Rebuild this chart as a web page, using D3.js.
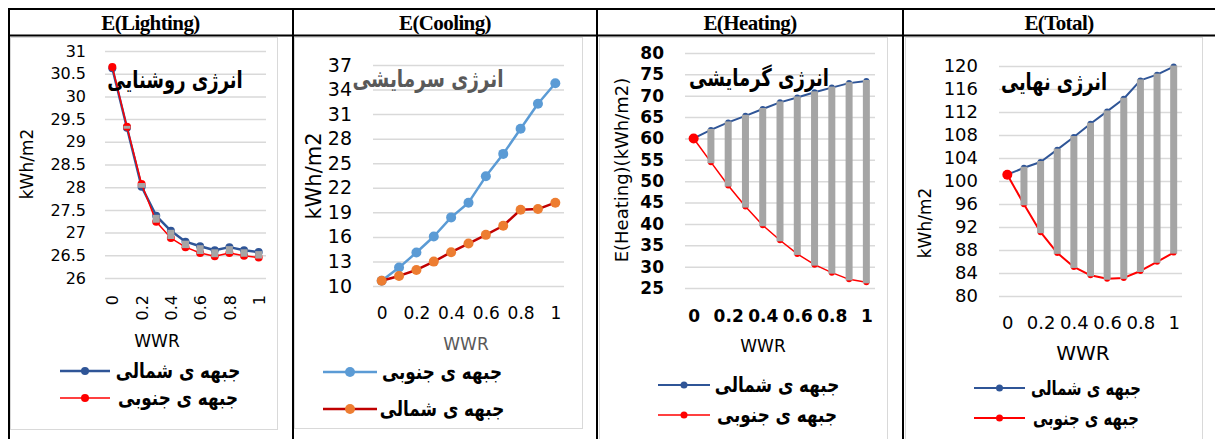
<!DOCTYPE html>
<html>
<head>
<meta charset="utf-8">
<script src="https://cdn.jsdelivr.net/npm/d3@7"></script>
<style>
  body { margin: 0; background: #fff; }
  text { font-family: "DejaVu Sans", sans-serif; }
</style>
</head>
<body>
<script>
// categories (window-to-wall ratio)
const wwr = [0, 0.1, 0.2, 0.3, 0.4, 0.5, 0.6, 0.7, 0.8, 0.9, 1];
const xTickLabels = ["0", "0.2", "0.4", "0.6", "0.8", "1"];

const headers = ["E(Lighting)", "E(Cooling)", "E(Heating)", "E(Total)"];
const titles = ["انرژی روشنایی", "انرژی سرمایشی", "انرژی گرمایشی", "انرژی نهایی"];
const northLabel = "جبهه ی شمالی";
const southLabel = "جبهه ی جنوبی";

// series values, kWh/m2
const lightNorth = [30.62, 29.31, 28.01, 27.37, 27.04, 26.80, 26.70, 26.61, 26.68, 26.61, 26.57];
const lightSouth = [30.65, 29.33, 28.07, 27.24, 26.88, 26.68, 26.55, 26.48, 26.55, 26.49, 26.45];
const coolSouth = [10.65, 12.25, 14.09, 16.05, 18.38, 20.18, 23.40, 26.14, 29.21, 32.27, 34.77];
const coolNorth = [10.65, 11.23, 11.96, 12.98, 14.13, 15.19, 16.25, 17.36, 19.32, 19.40, 20.18];
const heatNorth = [60.0, 62.0, 63.75, 65.3, 66.9, 68.45, 69.6, 70.8, 71.9, 72.95, 73.45];
const heatSouth = [60.0, 54.45, 48.98, 44.06, 39.69, 36.17, 32.97, 30.47, 28.59, 27.03, 26.33];
const totalNorth = [101.1, 102.3, 103.3, 105.45, 107.65, 109.95, 112.1, 114.3, 117.5, 118.5, 119.9];
const totalSouth = [101.1, 95.95, 91.1, 87.5, 85.05, 83.6, 83.0, 83.15, 84.35, 85.95, 87.55];

// y tick values
const lightTicks = [26, 26.5, 27, 27.5, 28, 28.5, 29, 29.5, 30, 30.5, 31];
const coolTicks = [10, 13, 16, 19, 22, 25, 28, 31, 34, 37];
const heatTicks = [25, 30, 35, 40, 45, 50, 55, 60, 65, 70, 75, 80];
const totalTicks = [80, 84, 88, 92, 96, 100, 104, 108, 112, 116, 120];

const W = 1215, H = 439;
const DARKBLUE = "#2f5597", RED = "#ff0000", GRAY_BAR = "#a5a5a5", GRID = "#d9d9d9";

const svg = d3.select("body").append("svg")
  .attr("width", W).attr("height", H);

const panels = [
  {
    col: [8, 293], area: [10, 37, 277, 429],
    plot: { left: 105, right: 266, top: 51, bottom: 278 },
    ticks: lightTicks, tickSize: 16, tickBold: false, tickRight: 86,
    xRotate: true, xLabelY: 295, xSize: 16, xBold: false,
    title: { x: 175, y: 88, color: "#000", size: 24, sx: 0.75 },
    yTitle: { text: "kWh/m2", x: 27, y: 164, size: 17 },
    wwr: { x: 157, y: 347, size: 17, color: "#000" },
    series: [
      { values: lightNorth, line: DARKBLUE, marker: DARKBLUE, lw: 2.5, r: 4, label: northLabel },
      { values: lightSouth, line: RED, marker: RED, lw: 1.5, r: 4, label: southLabel }
    ],
    bars: true,
    legend: { x0: 60, x1: 110, ys: [371, 398], textX: 178, size: 21, sx: 0.8 }
  },
  {
    col: [293, 597], area: [294, 37, 582, 428],
    plot: { left: 373, right: 564, top: 65, bottom: 286 },
    ticks: coolTicks, tickSize: 19, tickBold: false, tickRight: 352,
    xRotate: false, xLabelY: 319, xSize: 17, xBold: false,
    title: { x: 428, y: 87, color: "#595959", size: 24, sx: 0.77 },
    yTitle: { text: "kWh/m2", x: 314, y: 176, size: 21 },
    wwr: { x: 466, y: 350, size: 17, color: "#595959" },
    series: [
      { values: coolSouth, line: "#5b9bd5", marker: "#5b9bd5", lw: 2.5, r: 5, label: southLabel },
      { values: coolNorth, line: "#c00000", marker: "#ed7d31", lw: 2.5, r: 5, label: northLabel }
    ],
    bars: false,
    legend: { x0: 323, x1: 377, ys: [372, 409], textX: 442, size: 21, sx: 0.8 }
  },
  {
    col: [597, 903], area: [599, 37, 887, 460],
    plot: { left: 685, right: 875, top: 53, bottom: 288 },
    ticks: heatTicks, tickSize: 17, tickBold: true, tickRight: 664,
    xRotate: false, xLabelY: 322, xSize: 17, xBold: true,
    title: { x: 759, y: 86, color: "#000", size: 24, sx: 0.75 },
    yTitle: { text: "E(Heating)(kWh/m2)", x: 622, y: 170, size: 18 },
    wwr: { x: 763, y: 352, size: 17, color: "#000" },
    series: [
      { values: heatNorth, line: DARKBLUE, marker: DARKBLUE, lw: 2, r: 3, r0: 3, label: northLabel },
      { values: heatSouth, line: RED, marker: RED, lw: 1.5, r: 3, r0: 5, label: southLabel }
    ],
    bars: true,
    legend: { x0: 658, x1: 710, ys: [385, 415], textX: 777, size: 21, sx: 0.8 }
  },
  {
    col: [903, 1215], area: [905, 37, 1202, 460],
    plot: { left: 999, right: 1182, top: 66, bottom: 296 },
    ticks: totalTicks, tickSize: 18, tickBold: false, tickRight: 978,
    xRotate: false, xLabelY: 329, xSize: 18, xBold: false,
    title: { x: 1054, y: 90, color: "#000", size: 24, sx: 0.74 },
    yTitle: { text: "kWh/m2", x: 925, y: 223, size: 17 },
    wwr: { x: 1083, y: 360, size: 20, color: "#000" },
    series: [
      { values: totalNorth, line: DARKBLUE, marker: DARKBLUE, lw: 2, r: 3, r0: 3, label: northLabel },
      { values: totalSouth, line: RED, marker: RED, lw: 2, r: 3, r0: 5, label: southLabel }
    ],
    bars: true,
    legend: { x0: 974, x1: 1025, ys: [388, 418], textX: 1086, size: 20, sx: 0.74 }
  }
];

panels.forEach((p, i) => drawPanel(p, i));
drawTable();

function drawPanel(p, i) {
  const g = svg.append("g");

  // chart area border
  g.append("rect")
    .attr("x", p.area[0] + 0.5).attr("y", p.area[1] + 0.5)
    .attr("width", p.area[2] - p.area[0]).attr("height", p.area[3] - p.area[1])
    .attr("fill", "#fff").attr("stroke", GRID).attr("stroke-width", 1);

  const x = d3.scalePoint()
    .domain(d3.range(wwr.length))
    .range([p.plot.left, p.plot.right])
    .padding(0.5);
  const y = d3.scaleLinear()
    .domain([p.ticks[0], p.ticks[p.ticks.length - 1]])
    .range([p.plot.bottom, p.plot.top]);

  // gridlines
  g.append("g")
    .attr("transform", `translate(${p.plot.left},0)`)
    .call(d3.axisLeft(y).tickValues(p.ticks).tickSize(-(p.plot.right - p.plot.left)).tickFormat(""))
    .call(a => a.select(".domain").remove())
    .call(a => a.selectAll("line").attr("stroke", GRID).attr("stroke-width", 1.5));

  // y tick labels
  g.append("g")
    .attr("transform", `translate(${p.tickRight},0)`)
    .call(d3.axisLeft(y).tickValues(p.ticks).tickSize(0).tickPadding(0).tickFormat(d => String(d)))
    .call(a => a.select(".domain").remove())
    .call(a => a.selectAll("text")
      .attr("fill", "#000")
      .style("font-family", "DejaVu Sans")
      .style("font-size", p.tickSize + "px")
      .style("font-weight", p.tickBold ? "bold" : "normal"));

  // x tick labels (every other category)
  const xAxis = d3.axisBottom(x)
    .tickValues(d3.range(0, wwr.length, 2))
    .tickSize(0)
    .tickFormat((d, k) => xTickLabels[k]);
  const xa = g.append("g")
    .attr("transform", `translate(0,${p.xLabelY})`)
    .call(xAxis)
    .call(a => a.select(".domain").remove());
  xa.selectAll("text")
    .attr("fill", "#000")
    .style("font-family", "DejaVu Sans")
    .style("font-size", p.xSize + "px")
    .style("font-weight", p.xBold ? "bold" : "normal");
  if (p.xRotate) {
    xa.selectAll("text")
      .attr("y", 0).attr("dy", "0.35em")
      .attr("transform", "rotate(-90)")
      .attr("x", 0)
      .attr("text-anchor", "end");
  } else {
    xa.selectAll("text").attr("y", 0).attr("dy", 0);
  }

  // series lines and markers
  p.series.forEach(s => {
    const line = d3.line()
      .x((d, k) => x(k))
      .y(d => y(d));
    g.append("path")
      .datum(s.values)
      .attr("d", line)
      .attr("fill", "none")
      .attr("stroke", s.line)
      .attr("stroke-width", s.lw)
      .attr("stroke-linejoin", "round");
    g.selectAll(null)
      .data(s.values)
      .join("circle")
      .attr("cx", (d, k) => x(k))
      .attr("cy", d => y(d))
      .attr("r", (d, k) => (k === 0 && s.r0) ? s.r0 : s.r)
      .attr("fill", s.marker);
  });

  // high-low lines between the two series
  if (p.bars) {
    const a = p.series[0].values, b = p.series[1].values;
    g.selectAll(null)
      .data(d3.range(1, wwr.length))
      .join("rect")
      .attr("x", k => x(k) - 3.5)
      .attr("width", 7)
      .attr("y", k => y(Math.max(a[k], b[k])) - 1)
      .attr("height", k => Math.abs(y(a[k]) - y(b[k])) + 2)
      .attr("fill", GRAY_BAR);
  }

  // in-chart Persian title
  g.append("text")
    .attr("transform", `translate(${p.title.x},${p.title.y}) scale(${p.title.sx},1)`)
    .attr("text-anchor", "middle")
    .attr("fill", p.title.color)
    .style("font-size", p.title.size + "px")
    .style("font-weight", "bold")
    .text(titles[i]);

  // y axis title
  g.append("text")
    .attr("transform", `translate(${p.yTitle.x},${p.yTitle.y}) rotate(-90)`)
    .attr("text-anchor", "middle")
    .attr("dy", "0.35em")
    .attr("fill", "#000")
    .style("font-size", p.yTitle.size + "px")
    .text(p.yTitle.text);

  // x axis title
  g.append("text")
    .attr("x", p.wwr.x).attr("y", p.wwr.y)
    .attr("text-anchor", "middle")
    .attr("fill", p.wwr.color)
    .style("font-size", p.wwr.size + "px")
    .text("WWR");

  // legend
  p.series.forEach((s, k) => {
    const ly = p.legend.ys[k];
    g.append("line")
      .attr("x1", p.legend.x0).attr("x2", p.legend.x1)
      .attr("y1", ly).attr("y2", ly)
      .attr("stroke", s.line).attr("stroke-width", s.lw);
    g.append("circle")
      .attr("cx", (p.legend.x0 + p.legend.x1) / 2).attr("cy", ly)
      .attr("r", Math.max(s.r, 3.5)).attr("fill", s.marker);
    g.append("text")
      .attr("transform", `translate(${p.legend.textX},${ly}) scale(${p.legend.sx},1)`)
      .attr("dy", "0.35em")
      .attr("text-anchor", "middle")
      .attr("fill", "#000")
      .style("font-size", p.legend.size + "px")
      .style("font-weight", "bold")
      .text(s.label);
  });
}

function drawTable() {
  const t = svg.append("g");
  t.append("line").attr("x1", 8).attr("x2", W).attr("y1", 9).attr("y2", 9)
    .attr("stroke", "#000").attr("stroke-width", 2);
  t.append("line").attr("x1", 8).attr("x2", W).attr("y1", 35.5).attr("y2", 35.5)
    .attr("stroke", "#000").attr("stroke-width", 2);
  [9, 293, 597, 903].forEach(xv => {
    t.append("line").attr("x1", xv).attr("x2", xv).attr("y1", 8).attr("y2", H)
      .attr("stroke", "#000").attr("stroke-width", 2);
  });
  const cols = panels.map(p => p.col);
  t.selectAll(null)
    .data(headers)
    .join("text")
    .attr("x", (d, k) => (cols[k][0] + cols[k][1]) / 2)
    .attr("y", 30)
    .attr("text-anchor", "middle")
    .style("font-family", "Liberation Serif")
    .style("font-weight", "bold")
    .style("font-size", "21px")
    .style("letter-spacing", "-0.6px")
    .text(d => d);
}
</script>
</body>
</html>
